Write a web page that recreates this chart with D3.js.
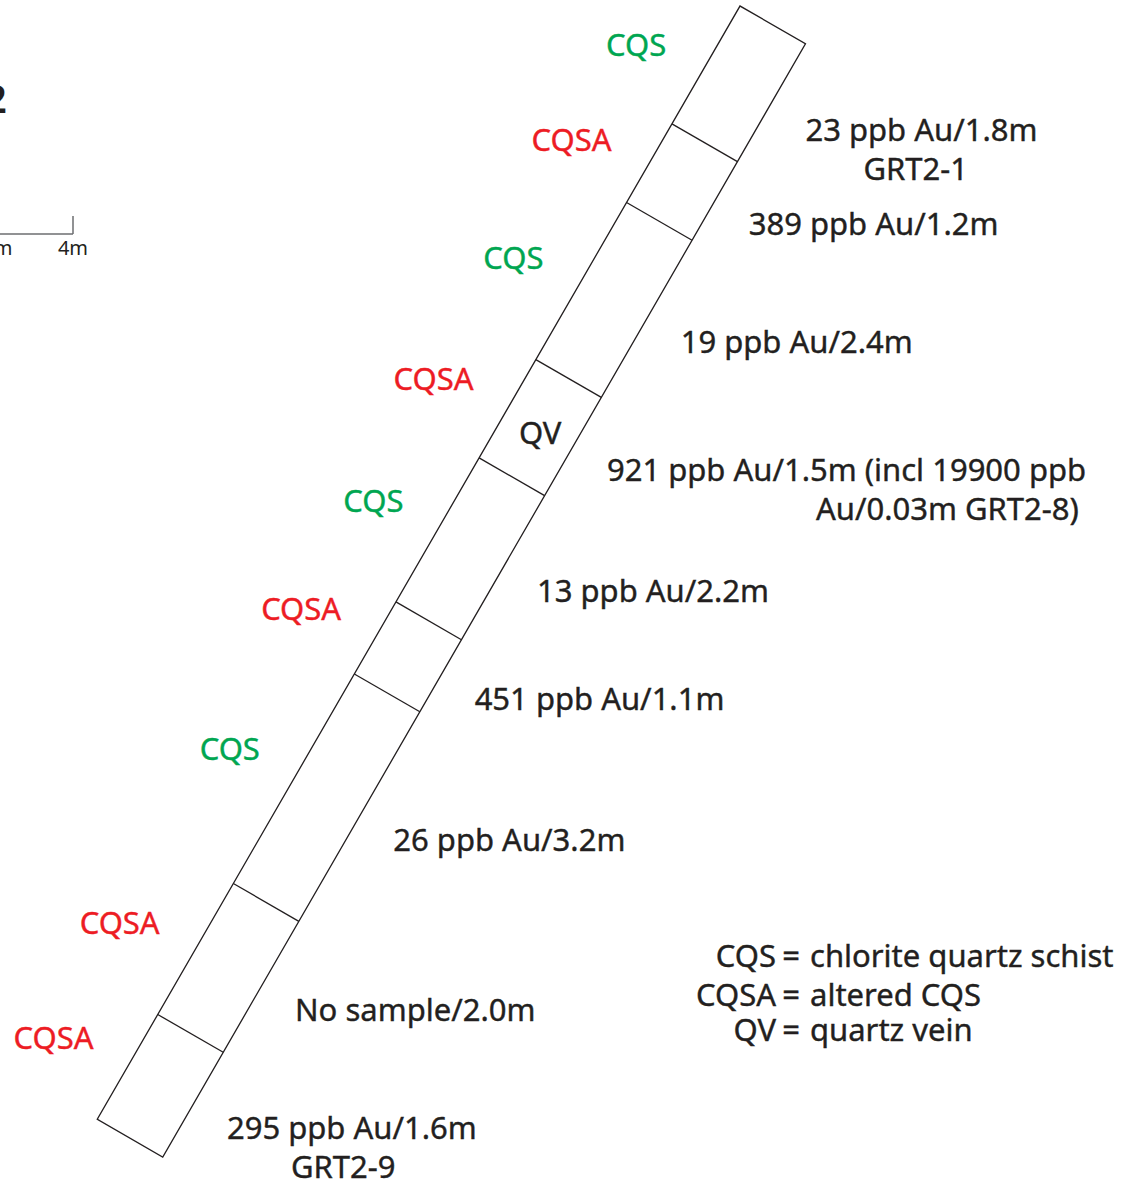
<!DOCTYPE html>
<html>
<head>
<meta charset="utf-8">
<script src="https://cdn.jsdelivr.net/npm/d3@7"></script>
<style>
  body { margin: 0; background: #fff; }
  text { font-family: "Noto Sans", sans-serif; stroke-width: 0.4px; }
</style>
</head>
<body>
<div id="trench-container"></div>
<script>
// trench GRT2 samples, top (NE) to bottom (SW)
const sampleLengths = [1.8, 1.2, 2.4, 1.5, 2.2, 1.1, 3.2, 2.0, 1.6];
const assayPpb = [23, 389, 19, 921, 13, 451, 26, null, 295];
const lineSuffix = ["", "", "", " (incl 19900 ppb", "", "", "", "", ""];
const secondLine = ["GRT2-1", "", "", "Au/0.03m GRT2-8)", "", "", "", "", "GRT2-9"];

// lithology labels (metres along trench where each label sits)
const lithology = ["CQS", "CQSA", "CQS", "CQSA", "CQS", "CQSA", "CQS", "CQSA", "CQSA"];
const lithologyAt = [0.6, 2.05, 3.85, 5.7, 7.55, 9.2, 11.35, 14.0, 15.75];
const veinSample = 3; // QV segment index

const legendCodes = ["CQS", "CQSA", "QV"];
const legendNames = ["chlorite quartz schist", "altered CQS", "quartz vein"];

const scaleTicks = [0, 1, 2, 3, 4];

const width = 1128;
const height = 1195;
const ink = "#231f20";
const colors = { CQS: "#00a651", CQSA: "#ed1c24" };
const fontSize = 31;

const svg = d3
  .select("#trench-container")
  .append("svg")
  .attr("width", width)
  .attr("height", height);

const total = d3.sum(sampleLengths);
const along = d3.scaleLinear().domain([0, total]).range([0, 1285.5]);
const stripW = along(1);
const origin = [740, 6];
const angle = 30;
const cosA = Math.cos((angle * Math.PI) / 180);
const sinA = Math.sin((angle * Math.PI) / 180);

// local (across, along) -> page coords
function toPage(u, v) {
  return [origin[0] + u * cosA - v * sinA, origin[1] + u * sinA + v * cosA];
}

const cum = d3.cumsum(sampleLengths);
const starts = [0, ...cum.slice(0, -1)];

// strip
const strip = svg
  .append("g")
  .attr("transform", "translate(" + origin[0] + "," + origin[1] + ") rotate(" + angle + ")");

strip
  .append("rect")
  .attr("x", 0)
  .attr("y", 0)
  .attr("width", stripW)
  .attr("height", along(total))
  .style("fill", "none")
  .style("stroke", ink)
  .style("stroke-width", 1.3);

strip
  .selectAll(".divider")
  .data(cum.slice(0, -1))
  .enter()
  .append("line")
  .attr("x1", 0)
  .attr("x2", stripW)
  .attr("y1", (d) => along(d))
  .attr("y2", (d) => along(d))
  .style("stroke", ink)
  .style("stroke-width", 1.3);

// assay labels
svg
  .selectAll(".assay")
  .data(sampleLengths.map((len, i) => ({ len, i, mid: starts[i] + len / 2 })))
  .enter()
  .append("text")
  .attr("font-size", fontSize)
  .style("fill", ink)
  .style("stroke", ink)
  .each(function (d) {
    const [px, py] = toPage(stripW, along(d.mid));
    const x = px + 34;
    const y = py + 23 + (d.i === 0 ? 4 : 0);
    const first =
      assayPpb[d.i] == null
        ? "No sample/" + d.len.toFixed(1) + "m"
        : assayPpb[d.i] + " ppb Au/" + d.len.toFixed(1) + "m" + lineSuffix[d.i];
    const t = d3.select(this);
    t.append("tspan").attr("x", x).attr("y", y).attr("dy", "0.36em").text(first);
    if (secondLine[d.i]) {
      const shift = d.i === veinSample ? 209 : d.i === 0 ? 58 : 64;
      t.append("tspan")
        .attr("x", x + shift)
        .attr("y", y + 39)
        .attr("dy", "0.36em")
        .text(secondLine[d.i]);
    }
  });

// lithology labels left of strip
svg
  .selectAll(".litho")
  .data(lithology)
  .enter()
  .append("text")
  .attr("font-size", fontSize)
  .attr("text-anchor", "end")
  .attr("dy", "0.36em")
  .style("fill", (d) => colors[d])
  .style("stroke", (d) => colors[d])
  .attr("x", (d, i) => toPage(0, along(lithologyAt[i]))[0] - 51)
  .attr("y", (d, i) => toPage(0, along(lithologyAt[i]))[1])
  .text((d) => d);

// QV inside its segment
const qv = toPage(stripW / 2, along(starts[veinSample] + sampleLengths[veinSample] / 2));
svg
  .append("text")
  .attr("font-size", fontSize)
  .attr("text-anchor", "middle")
  .attr("dy", "0.36em")
  .attr("x", qv[0])
  .attr("y", qv[1] + 5)
  .style("fill", ink)
  .style("stroke", ink)
  .text("QV");

// legend
const legend = svg.append("g").attr("transform", "translate(791,956)");
const rows = legend
  .selectAll("g")
  .data(legendCodes)
  .enter()
  .append("g")
  .attr("transform", (d, i) => "translate(0," + [0, 39, 74][i] + ")");
rows
  .append("text")
  .attr("font-size", fontSize)
  .attr("text-anchor", "end")
  .attr("x", -15)
  .attr("dy", "0.36em")
  .style("fill", ink)
  .style("stroke", ink)
  .text((d) => d);
rows
  .append("text")
  .attr("font-size", fontSize)
  .attr("text-anchor", "middle")
  .attr("dy", "0.36em")
  .style("fill", ink)
  .style("stroke", ink)
  .text("=");
rows
  .append("text")
  .attr("font-size", fontSize)
  .attr("x", 19)
  .attr("dy", "0.36em")
  .style("fill", ink)
  .style("stroke", ink)
  .text((d, i) => legendNames[i]);

// title (cropped at left edge)
svg
  .append("text")
  .attr("x", 7)
  .attr("y", 113)
  .attr("text-anchor", "end")
  .attr("font-size", 40)
  .attr("font-weight", 600)
  .style("fill", ink)
  .text("Trench GRT2");

// scale bar, same scale as strip
const sx = d3.scaleLinear().domain([0, 4]).range([73 - along(4), 73]);
const bar = svg.append("g").attr("transform", "translate(0,234)");
bar
  .append("line")
  .attr("x1", sx(0))
  .attr("x2", sx(4))
  .style("stroke", "#6d6e71")
  .style("stroke-width", 1.5);
bar
  .selectAll(".tick")
  .data([0, 4])
  .enter()
  .append("line")
  .attr("x1", (d) => sx(d))
  .attr("x2", (d) => sx(d))
  .attr("y1", -18)
  .attr("y2", 0)
  .style("stroke", "#6d6e71")
  .style("stroke-width", 1.5);
bar
  .selectAll(".lbl")
  .data(scaleTicks)
  .enter()
  .append("text")
  .attr("font-size", 20)
  .attr("text-anchor", "middle")
  .attr("x", (d) => sx(d))
  .attr("y", 21)
  .style("fill", ink)
  .text((d) => d + "m");
</script>
</body>
</html>
